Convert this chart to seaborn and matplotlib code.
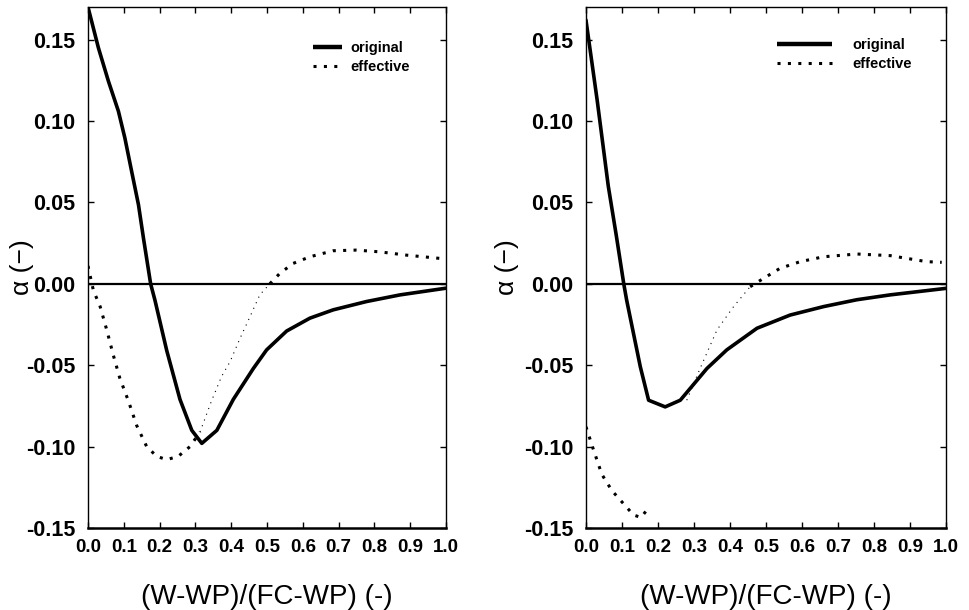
import numpy as np
import pandas as pd
import matplotlib
matplotlib.use("Agg")
import matplotlib.pyplot as plt
from matplotlib.lines import Line2D
import seaborn as sns

# ---------------- data ----------------
# left panel
left_orig_x = [0.0, 0.029, 0.057, 0.085, 0.103, 0.122, 0.141, 0.155, 0.175, 0.187,
               0.22, 0.257, 0.29, 0.318, 0.36, 0.406, 0.462, 0.499, 0.555, 0.62,
               0.685, 0.778, 0.872, 1.0]
left_orig_y = [0.170, 0.145, 0.1245, 0.106, 0.0896, 0.069, 0.0486, 0.028, 0.0, -0.010,
               -0.041, -0.071, -0.090, -0.098, -0.090, -0.071, -0.052, -0.0406, -0.029, -0.0211,
               -0.016, -0.0109, -0.0068, -0.0027]

left_eff_x = [0.0, 0.015, 0.034, 0.052, 0.071, 0.089, 0.113, 0.136, 0.164, 0.192,
              0.22, 0.252, 0.285, 0.313, 0.345, 0.373, 0.397, 0.425, 0.453, 0.48,
              0.508, 0.536, 0.573, 0.62, 0.685, 0.75, 0.816, 0.89, 0.983]
left_eff_y = [0.011, -0.004, -0.014, -0.028, -0.044, -0.058, -0.072, -0.087, -0.100, -0.106,
              -0.108, -0.106, -0.100, -0.091, -0.072, -0.057, -0.0478, -0.0334, -0.020, -0.0068,
              0.0, 0.0064, 0.0125, 0.0166, 0.0203, 0.0207, 0.0196, 0.0176, 0.0156]

# right panel
right_orig_x = [0.0, 0.031, 0.062, 0.084, 0.105, 0.113, 0.132, 0.151, 0.174,
                0.22, 0.262, 0.336, 0.391, 0.475, 0.567, 0.66, 0.752, 0.845, 1.0]
right_orig_y = [0.162, 0.113, 0.060, 0.030, 0.0, -0.010, -0.0305, -0.051, -0.0715,
                -0.0756, -0.0715, -0.052, -0.0406, -0.0273, -0.0192, -0.014, -0.0098, -0.0068, -0.0028]

right_eff_a_x = [0.0, 0.021, 0.044, 0.072, 0.104, 0.132, 0.153, 0.169]
right_eff_a_y = [-0.0878, -0.102, -0.117, -0.127, -0.135, -0.142, -0.1435, -0.139]

right_eff_b_x = [0.28, 0.317, 0.364, 0.41, 0.456, 0.493, 0.539, 0.595, 0.66, 0.752, 0.845, 0.946, 0.988]
right_eff_b_y = [-0.0715, -0.052, -0.0283, -0.014, -0.0018, 0.0033, 0.0095, 0.0136, 0.0166, 0.0183, 0.0173, 0.0136, 0.0132]

x_ticks = [0.0, 0.1, 0.2, 0.3, 0.4, 0.5, 0.6, 0.7, 0.8, 0.9, 1.0]
x_tick_labels = ["0.0", "0.1", "0.2", "0.3", "0.4", "0.5", "0.6", "0.7", "0.8", "0.9", "1.0"]
y_ticks = [-0.15, -0.10, -0.05, 0.00, 0.05, 0.10, 0.15]
y_tick_labels = ["-0.15", "-0.10", "-0.05", "0.00", "0.05", "0.10", "0.15"]
legend_labels = ["original", "effective"]
x_label = "(W-WP)/(FC-WP) (-)"
y_label = "α (−)"

# ---------------- style ----------------
sns.set_style("ticks")
plt.rcParams['font.family'] = ['Liberation Sans', 'DejaVu Sans']
plt.rcParams['text.color'] = 'black'
plt.rcParams['axes.labelcolor'] = 'black'
plt.rcParams['xtick.color'] = 'black'
plt.rcParams['ytick.color'] = 'black'

fig = plt.figure(figsize=(9.69, 6.10), dpi=100)
ax1 = fig.add_axes([0.0908, 0.1344, 0.3694, 0.8541])
ax2 = fig.add_axes([0.6047, 0.1344, 0.3716, 0.8541])

LW_ORIG = 2.6
LW_DOT = 2.2
DOT = (0, (1, 2.4))
THIN_LW = 0.8
THIN_DOT = (0, (1, 4.5))


def seg(xs, ys, lo, hi):
    xs = np.asarray(xs); ys = np.asarray(ys)
    m = (xs >= lo) & (xs <= hi)
    return pd.DataFrame({"x": xs[m], "y": ys[m]})


def draw_line(ax, df, lw, ls):
    sns.lineplot(data=df, x="x", y="y", ax=ax, color="black", linewidth=lw,
                 linestyle=ls, sort=False, estimator=None, legend=False,
                 dash_capstyle="butt", solid_capstyle="round", solid_joinstyle="round")


# left panel
ax1.axhline(0, color="black", lw=1.6, zorder=1)
draw_line(ax1, pd.DataFrame({"x": left_orig_x, "y": left_orig_y}), LW_ORIG, "-")
draw_line(ax1, seg(left_eff_x, left_eff_y, 0.0, 0.313), LW_DOT, DOT)
draw_line(ax1, seg(left_eff_x, left_eff_y, 0.313, 0.508), THIN_LW, THIN_DOT)
draw_line(ax1, seg(left_eff_x, left_eff_y, 0.508, 1.0), LW_DOT, DOT)

# right panel
ax2.axhline(0, color="black", lw=1.6, zorder=1)
draw_line(ax2, pd.DataFrame({"x": right_orig_x, "y": right_orig_y}), LW_ORIG, "-")
draw_line(ax2, pd.DataFrame({"x": right_eff_a_x, "y": right_eff_a_y}), LW_DOT, DOT)
draw_line(ax2, seg(right_eff_b_x, right_eff_b_y, 0.0, 0.456), THIN_LW, THIN_DOT)
draw_line(ax2, seg(right_eff_b_x, right_eff_b_y, 0.456, 1.0), LW_DOT, DOT)

for ax, hl, htp, anchor, ylx in [(ax1, 2.0, 0.6, (0.628, 0.935), -0.152),
                                 (ax2, 3.8, 1.4, (0.53, 0.940), -0.186)]:
    ax.set_xlim(0, 1.0)
    ax.set_ylim(-0.15, 0.17)
    ax.set_xticks(x_ticks)
    ax.set_xticklabels(x_tick_labels, fontsize=13.5, fontweight="bold")
    ax.set_yticks(y_ticks)
    ax.set_yticklabels(y_tick_labels, fontsize=15.5, fontweight="bold")
    ax.tick_params(direction="in", length=4, width=1, top=True, right=True,
                   colors="black")
    ax.tick_params(axis="x", pad=8)
    ax.tick_params(axis="y", pad=9)
    for s in ["left", "right", "top"]:
        ax.spines[s].set_visible(True)
        ax.spines[s].set_linewidth(1.0)
        ax.spines[s].set_color("black")
    ax.spines["bottom"].set_linewidth(1.8)
    ax.spines["bottom"].set_color("black")
    ax.set_xlabel(x_label, fontsize=20, labelpad=20, color="black")
    ax.set_ylabel(y_label, fontsize=19, color="black")
    ax.yaxis.set_label_coords(ylx, 0.5)
    handles = [Line2D([], [], color="black", lw=LW_ORIG + 0.6, solid_capstyle="butt"),
               Line2D([], [], color="black", lw=LW_DOT, linestyle=DOT, dash_capstyle="butt")]
    ax.legend(handles, legend_labels, loc="upper left", bbox_to_anchor=anchor,
              frameon=False, handlelength=hl, handletextpad=htp,
              labelspacing=0.35, borderpad=0, borderaxespad=0,
              prop={"weight": "bold", "size": 10.5})

fig.savefig("out.png", dpi=100)
